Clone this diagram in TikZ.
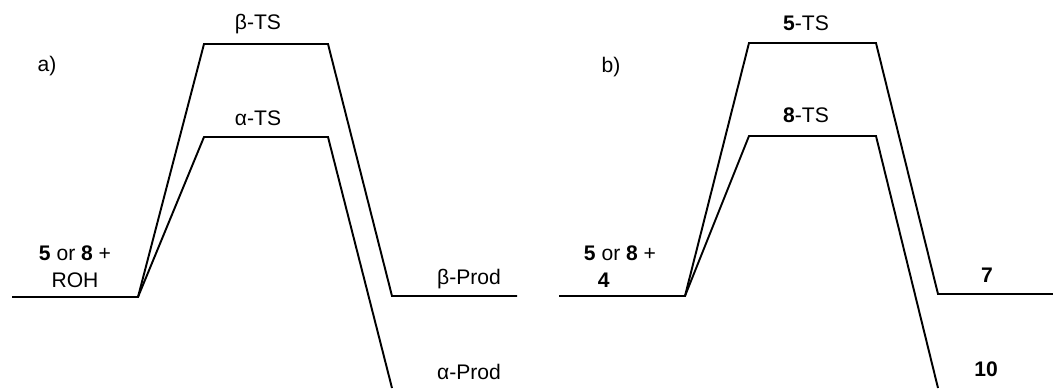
\documentclass[tikz,border=0pt]{standalone}
\usepackage{fontspec}
\setmainfont{Liberation Sans}
\usepackage{tikz}
\usetikzlibrary{positioning}

\begin{document}
\begin{tikzpicture}[
  lvl/.style={line width=1.1pt,line join=miter},
  lab/.style={inner sep=0pt,font=\fontsize{12}{15.4}\selectfont,align=center},
]
\useasboundingbox (0,0) rectangle (21.06,7.76);
% a) glycosylation with ROH
\coordinate (aR0) at (0.24,1.82);
\coordinate (aR1) at (2.76,1.82);
\coordinate (bTS0) at (4.08,6.88);
\coordinate (bTS1) at (6.56,6.88);
\coordinate (aTS0) at (4.08,5.02);
\coordinate (aTS1) at (6.56,5.02);
\coordinate (bP0) at (7.84,1.84);
\coordinate (bP1) at (10.34,1.84);
\coordinate (aP0) at (7.84,0);
\draw[lvl] (aR0) -- (aR1) -- (bTS0) -- (bTS1) -- (bP0) -- (bP1);
\draw[lvl] (aR1) -- (aTS0) -- (aTS1) -- (aP0);
\node[lab] (la) at (0.94,6.44) {a)};
\node[lab] (lbTS) at (5.16,7.28) {β-TS};
\node[lab] (laTS) at (5.16,5.40) {α-TS};
\node[lab] (laR) at (1.50,2.42) {\textbf{5} or \textbf{8} +\\ROH};
\node[lab] (lbP) at (9.38,2.18) {β-Prod};
\node[lab] (laP) at (9.38,0.32) {α-Prod};
% b) reaction with 4
\coordinate (bR0) at (11.18,1.84);
\coordinate (bR1) at (13.70,1.84);
\coordinate (fTS0) at (14.98,6.90);
\coordinate (fTS1) at (17.52,6.90);
\coordinate (eTS0) at (14.98,5.04);
\coordinate (eTS1) at (17.52,5.04);
\coordinate (sP0) at (18.76,1.88);
\coordinate (sP1) at (21.06,1.88);
\coordinate (tP0) at (18.76,0);
\draw[lvl] (bR0) -- (bR1) -- (fTS0) -- (fTS1) -- (sP0) -- (sP1);
\draw[lvl] (bR1) -- (eTS0) -- (eTS1) -- (tP0);
\node[lab] (lb) at (12.22,6.42) {b)};
\node[lab] (lfTS) at (16.12,7.30) {\textbf{5}-TS};
\node[lab] (leTS) at (16.12,5.46) {\textbf{8}-TS};
\node[lab,align=left] (lbR) at (12.40,2.42) {\textbf{5} or \textbf{8} +\\\hspace*{0.28cm}\textbf{4}};
\node[lab] (lsP) at (19.74,2.26) {\textbf{7}};
\node[lab] (ltP) at (19.72,0.38) {\textbf{10}};
\end{tikzpicture}
\end{document}
